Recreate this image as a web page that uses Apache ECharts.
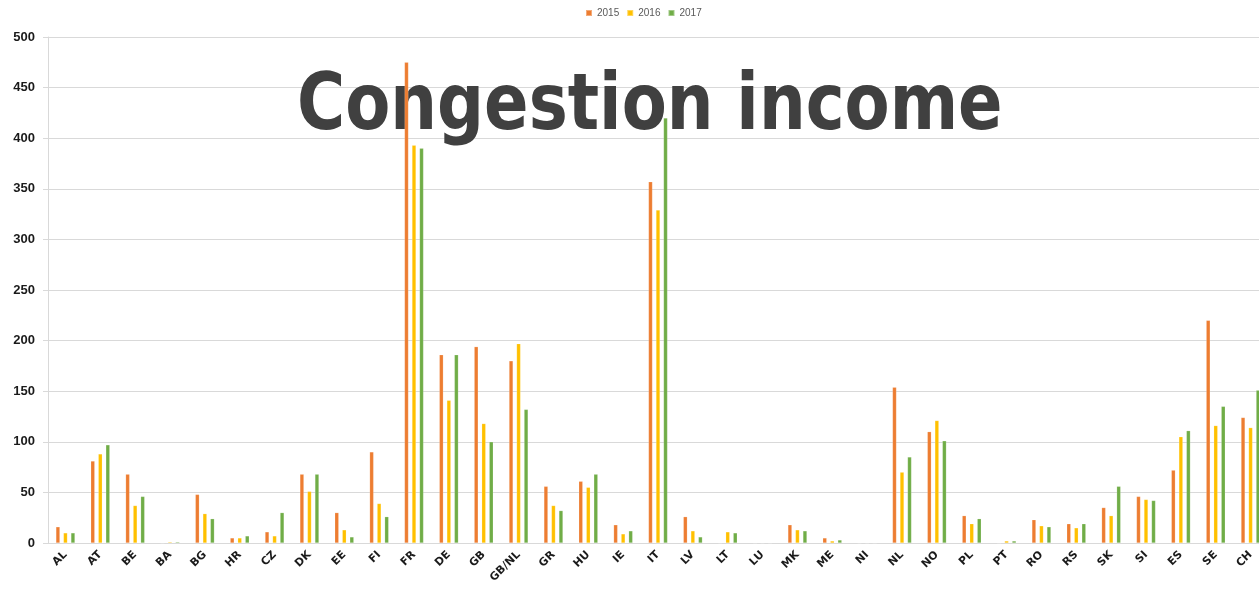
<!DOCTYPE html>
<html>
<head>
<meta charset="utf-8">
<script src="https://cdn.jsdelivr.net/npm/echarts@6/dist/echarts.min.js"></script>
<style>html,body{margin:0;padding:0;background:#fff}#c{width:1259px;height:594px}</style>
</head>
<body>
<div id="c"></div>
<script>
const categories = ['AL','AT','BE','BA','BG','HR','CZ','DK','EE','FI','FR','DE','GB','GB/NL','GR','HU','IE','IT','LV','LT','LU','MK','ME','NI','NL','NO','PL','PT','RO','RS','SK','SI','ES','SE','CH'];
const v2015 = [16,81,68,0,48,5,11,68,30,90,475,186,194,180,56,61,18,357,26,0,0,18,5,0,154,110,27,0,23,19,35,46,72,220,124];
const v2016 = [10,88,37,1,29,5,7,51,13,39,393,141,118,197,37,55,9,329,12,11,0,13,2,0,70,121,19,2,17,15,27,43,105,116,114];
const v2017 = [10,97,46,1,24,7,30,68,6,26,390,186,100,132,32,68,12,420,6,10,0,12,3,0,85,101,24,2,16,19,56,42,111,135,151];
const seriesNames = ['2015','2016','2017'];
const yTicks = [0,50,100,150,200,250,300,350,400,450,500];
const titleText = 'Congestion income';

const colors = ['#ED7D31','#FFC000','#70AD47'];
const chart = echarts.init(document.getElementById('c'));
const mk = (name, data, i) => ({
  name, type: 'bar', data, z: 5,
  barWidth: 4, barGap: '88%',
  itemStyle: { color: colors[i], borderColor: 'rgba(255,255,255,0.35)', borderWidth: 0.5 },
  emphasis: { disabled: true }
});
chart.setOption({
  animation: false,
  color: colors,
  legend: {
    data: seriesNames, top: 8, left: 585, padding: 0, itemWidth: 6, itemHeight: 6, itemGap: 7,
    icon: 'rect',
    textStyle: { fontSize: 10, color: '#595959', fontFamily: 'Liberation Sans' }
  },
  grid: { left: 48, width: 1220, top: 37, bottom: 51, containLabel: false, outerBoundsMode: 'none' },
  xAxis: {
    type: 'category', data: categories,
    axisLine: { lineStyle: { color: '#d9d9d9' } },
    axisTick: { show: false },
    axisLabel: { rotate: 45, interval: 0, margin: 10, fontSize: 11, fontWeight: 'bold', color: '#1a1a1a', fontFamily: 'DejaVu Sans' }
  },
  yAxis: {
    type: 'value', min: yTicks[0], max: yTicks[yTicks.length-1], interval: 50,
    axisLine: { show: true, lineStyle: { color: '#d9d9d9' } },
    axisTick: { show: true, length: 5, lineStyle: { color: '#d9d9d9' } },
    splitLine: { lineStyle: { color: '#d9d9d9' } },
    axisLabel: { fontSize: 13, fontWeight: 'bold', color: '#1a1a1a', margin: 13, fontFamily: 'Liberation Sans' }
  },
  graphic: [{
    type: 'text', left: 297, top: 70, z: 1,
    scaleX: 0.842, scaleY: 1,
    style: { text: titleText, font: 'bold 78px "DejaVu Sans"', fill: '#404040' }
  }],
  series: [mk(seriesNames[0], v2015, 0), mk(seriesNames[1], v2016, 1), mk(seriesNames[2], v2017, 2)]
});
</script>
</body>
</html>
